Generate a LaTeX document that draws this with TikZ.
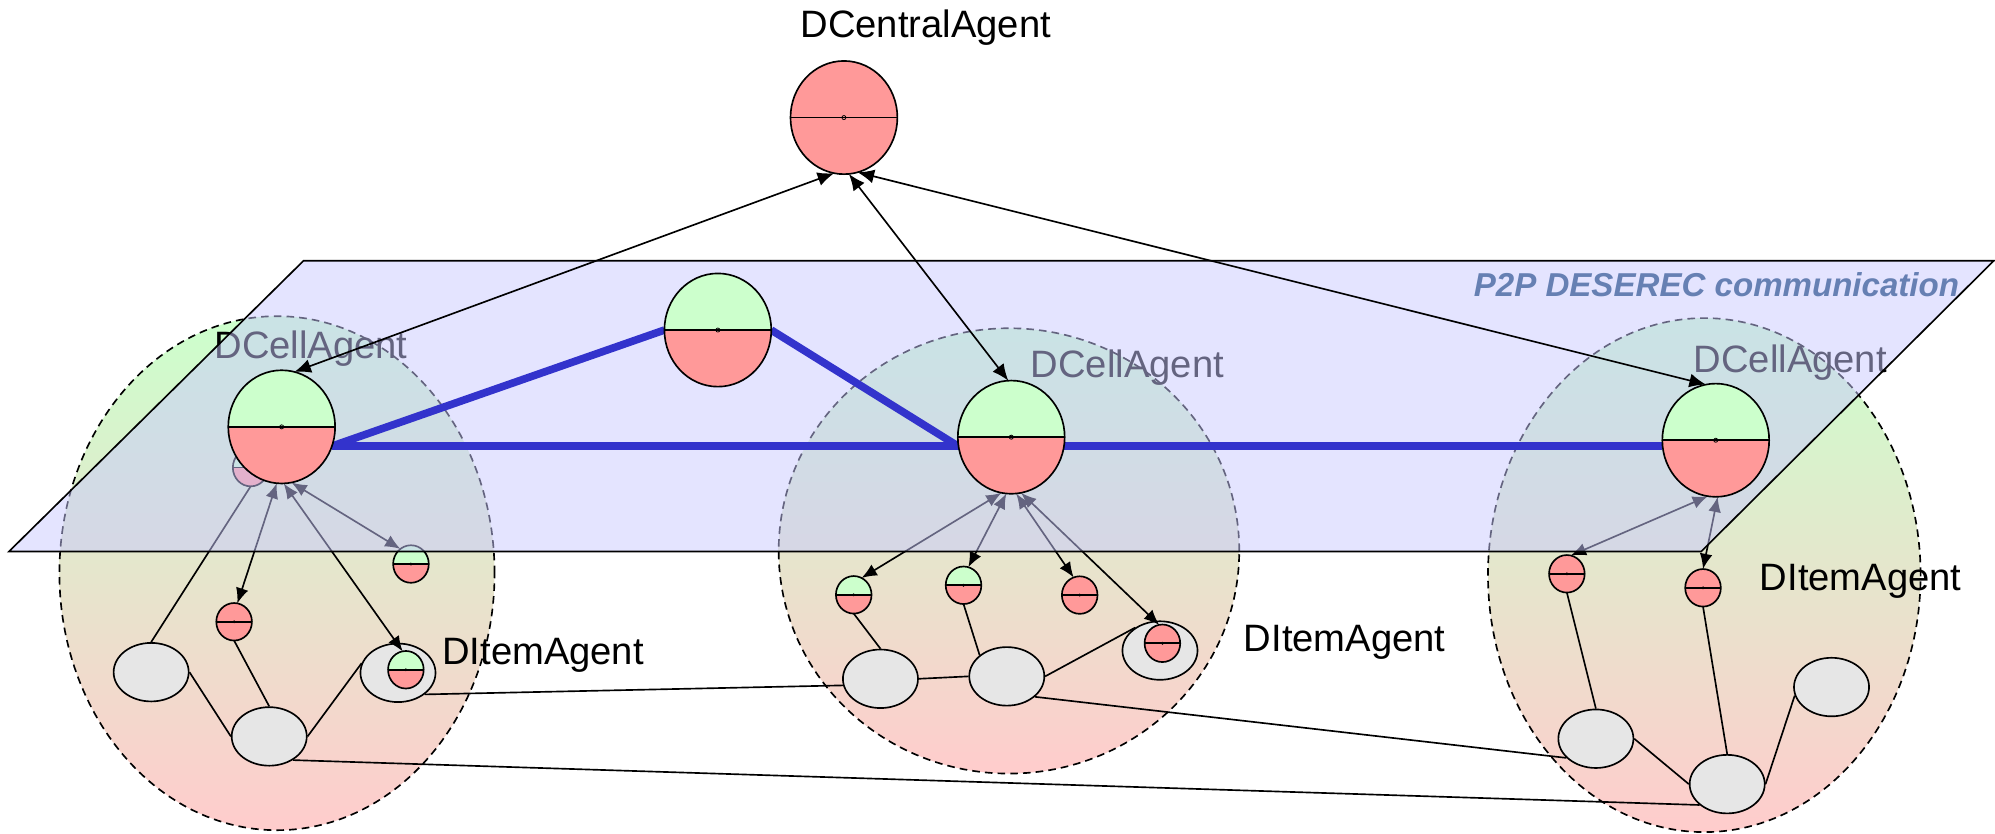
\documentclass[tikz,border=0pt]{standalone}
\usepackage{fontspec}
\setmainfont{Liberation Sans}
\usetikzlibrary{shapes.geometric,arrows.meta}
\pgfdeclarelayer{cells}
\pgfdeclarelayer{inner}
\pgfdeclarelayer{plane}
\pgfsetlayers{cells,inner,plane,main}

\definecolor{agreen}{RGB}{204,255,204}
\definecolor{ared}{RGB}{255,153,153}
\definecolor{itemgray}{RGB}{230,230,230}
\definecolor{planefill}{RGB}{201,201,255}
\definecolor{p2pblue}{RGB}{102,128,179}
\definecolor{linkblue}{RGB}{51,51,204}
\definecolor{cellgreen}{RGB}{204,255,204}
\definecolor{cellpink}{RGB}{255,204,204}

\tikzset{
  agentbase/.style={ellipse, draw=black, line width=1.3pt, inner sep=0pt, outer sep=0pt, fill=ared},
  bigagent/.style={agentbase, minimum width=84pt, minimum height=89pt},
  smallagent/.style={agentbase, minimum width=28pt, minimum height=29.5pt, dotsize=0.8pt},
  dotsize/.store in=\agentdot, dotsize=1.6pt,
  halfgreen/.style={path picture={
      \fill[agreen] (path picture bounding box.north west) rectangle (path picture bounding box.east);
      \draw[line width=1.3pt] (path picture bounding box.west) -- (path picture bounding box.east);
      \draw[line width=0.6pt] (path picture bounding box.center) circle (\agentdot);}},
  redonly/.style={path picture={
      \draw[line width=1.3pt] (path picture bounding box.west) -- (path picture bounding box.east);
      \draw[line width=0.6pt] (path picture bounding box.center) circle (\agentdot);}},
  itembox/.style={ellipse, draw=black, line width=1.3pt, fill=itemgray, inner sep=0pt,
      minimum width=59pt, minimum height=46pt},
  cellarea/.style={ellipse, draw=black, line width=1.3pt, dash pattern=on 6pt off 4pt,
      top color=cellgreen, bottom color=cellpink, inner sep=0pt},
  link/.style={draw=black, line width=1.3pt},
  dbl/.style={link, {Latex[length=12pt,width=10pt]}-{Latex[length=12pt,width=10pt]}},
  uparr/.style={link, {Latex[length=13pt,width=11pt]}-{Latex[length=13pt,width=11pt]}},
  bluelink/.style={draw=linkblue, line width=6pt},
  lbl/.style={font=\fontsize{30}{36}\selectfont, inner sep=0pt, anchor=base west},
}

\begin{document}
\begin{tikzpicture}[x=1pt,y=-1pt]
\useasboundingbox (0,0) rectangle (1568,655);

% ---- agents that sit on top of the communication plane
\node[bigagent, halfgreen] (lD) at (221.4,335.5) {};
\node[bigagent, halfgreen] (mD) at (794.8,343.6) {};
\node[bigagent, halfgreen] (rD) at (1348.5,346) {};
\node[bigagent, halfgreen] (fA) at (564.2,259.4) {};
\node[bigagent, redonly]   (cA) at (663.3,92.4) {};

\node[lbl, anchor=base west] (cAlbl) at (629,29.4) {DCentralAgent};

% ---- cell areas
\begin{pgfonlayer}{cells}
  \node[cellarea, minimum width=342pt, minimum height=404pt] (lC) at (217.7,450.5) {};
  \node[cellarea, minimum width=362pt, minimum height=350pt] (mC) at (793,433) {};
  \node[cellarea, minimum width=340pt, minimum height=404pt] (rC) at (1339.5,452) {};
\end{pgfonlayer}

% ---- item agents, items and their links
\begin{pgfonlayer}{inner}
  \node[lbl] (lDlbl) at (168.4,281.8) {DCellAgent};
  \node[lbl] (mDlbl) at (810,296.5) {DCellAgent};
  \node[lbl] (rDlbl) at (1331,293) {DCellAgent};

  % left cell
  \node[itembox] (lG1) at (118.8,528.3) {};
  \node[itembox] (lG2) at (211.6,578.8) {};
  \node[itembox] (lItem) at (312.8,528.8) {};
  \node[smallagent, halfgreen] (lA0) at (197,367.5) {};
  \node[smallagent, halfgreen] (lA1) at (323,443.3) {};
  \node[smallagent, redonly]   (lA2) at (184,488.7) {};
  \node[smallagent, halfgreen] (lItA) at (319,526.4) {};

  % middle cell
  \node[itembox] (mG1) at (692,533.5) {};
  \node[itembox] (mG2) at (791.3,531.6) {};
  \node[itembox] (mItem) at (911.7,511.3) {};
  \node[smallagent, halfgreen] (mA1) at (671,467.5) {};
  \node[smallagent, halfgreen] (mA2) at (757.3,460) {};
  \node[smallagent, redonly]   (mA3) at (848.6,467.7) {};
  \node[smallagent, redonly]   (mA4) at (913.6,505.6) {};

  % right cell
  \node[itembox] (rG1) at (1254.3,580.6) {};
  \node[itembox] (rG2) at (1357.5,616.3) {};
  \node[itembox] (rG3) at (1439.5,540) {};
  \node[smallagent, redonly] (rA1) at (1231.5,451) {};
  \node[smallagent, redonly] (rA2) at (1338.5,462) {};

  % links between items and agents
  \draw[link] (lA0.south) -- (lG1.north);
  \draw[link] (lG1.east) -- (lG2.west);
  \draw[link] (lA2.south) -- (lG2.north);
  \draw[link] (lG2.east) -- (lItem.165);
  \draw[link] (lItem.-39) -- (mG1.190);
  \draw[link] (lG2.-45) -- (rG2.-143);

  \draw[link] (mA1.south) -- (mG1.north);
  \draw[link] (mA2.south) -- (mG2.142);
  \draw[link] (mG1.east) -- (mG2.west);
  \draw[link] (mG2.east) -- (mItem.137);
  \draw[link] (mG2.-36) -- (rG1.-147);

  \draw[link] (rA1.south) -- (rG1.north);
  \draw[link] (rA2.south) -- (rG2.north);
  \draw[link] (rG1.east) -- (rG2.west);
  \draw[link] (rG2.east) -- (rG3.193);

  % cell agent <-> item agent exchanges
  \draw[dbl] (lD.-95) -- (lA2.80);
  \draw[dbl] (lD.-80) -- (lA1.125);
  \draw[dbl] (lD.-88) -- (lItA.100);

  \draw[dbl] (mD.-100) -- (mA1.65);
  \draw[dbl] (mD.-95) -- (mA2.75);
  \draw[dbl] (mD.-85) -- (mA3.109);
  \draw[dbl] (mD.-80) -- (mA4.100);

  \draw[dbl] (rD.-98) -- (rA1.78);
  \draw[dbl] (rD.-88) -- (rA2.north);
\end{pgfonlayer}

% ---- the P2P communication plane
\begin{pgfonlayer}{plane}
  \draw[line width=1.3pt, fill=planefill, fill opacity=0.5]
    (7,433.5) -- (238.5,205) -- (1567,205) -- (1337,433.5) -- cycle;
  \node[font=\fontsize{26}{30}\selectfont\bfseries\itshape, text=p2pblue, inner sep=0pt,
        anchor=base east] (p2p) at (1540,233.4) {P2P DESEREC communication};
  \draw[bluelink] (lD.-21) -- (lD.-21 -| rD.west);
  \draw[bluelink] (lD.-21) -- (fA.west);
  \draw[bluelink] (fA.east) -- (mD.190);
\end{pgfonlayer}

% ---- item agent labels
\node[lbl] (lIlbl) at (347.4,522.3) {DItemAgent};
\node[lbl] (mIlbl) at (977.5,512.2) {DItemAgent};
\node[lbl] (rIlbl) at (1383,464) {DItemAgent};

% ---- cell agents <-> central agent
\draw[uparr] (lD.77) -- (cA.-100);
\draw[uparr] (mD.93) -- (cA.-85);
\draw[uparr] (rD.100) -- (cA.-76);
\end{tikzpicture}
\end{document}
